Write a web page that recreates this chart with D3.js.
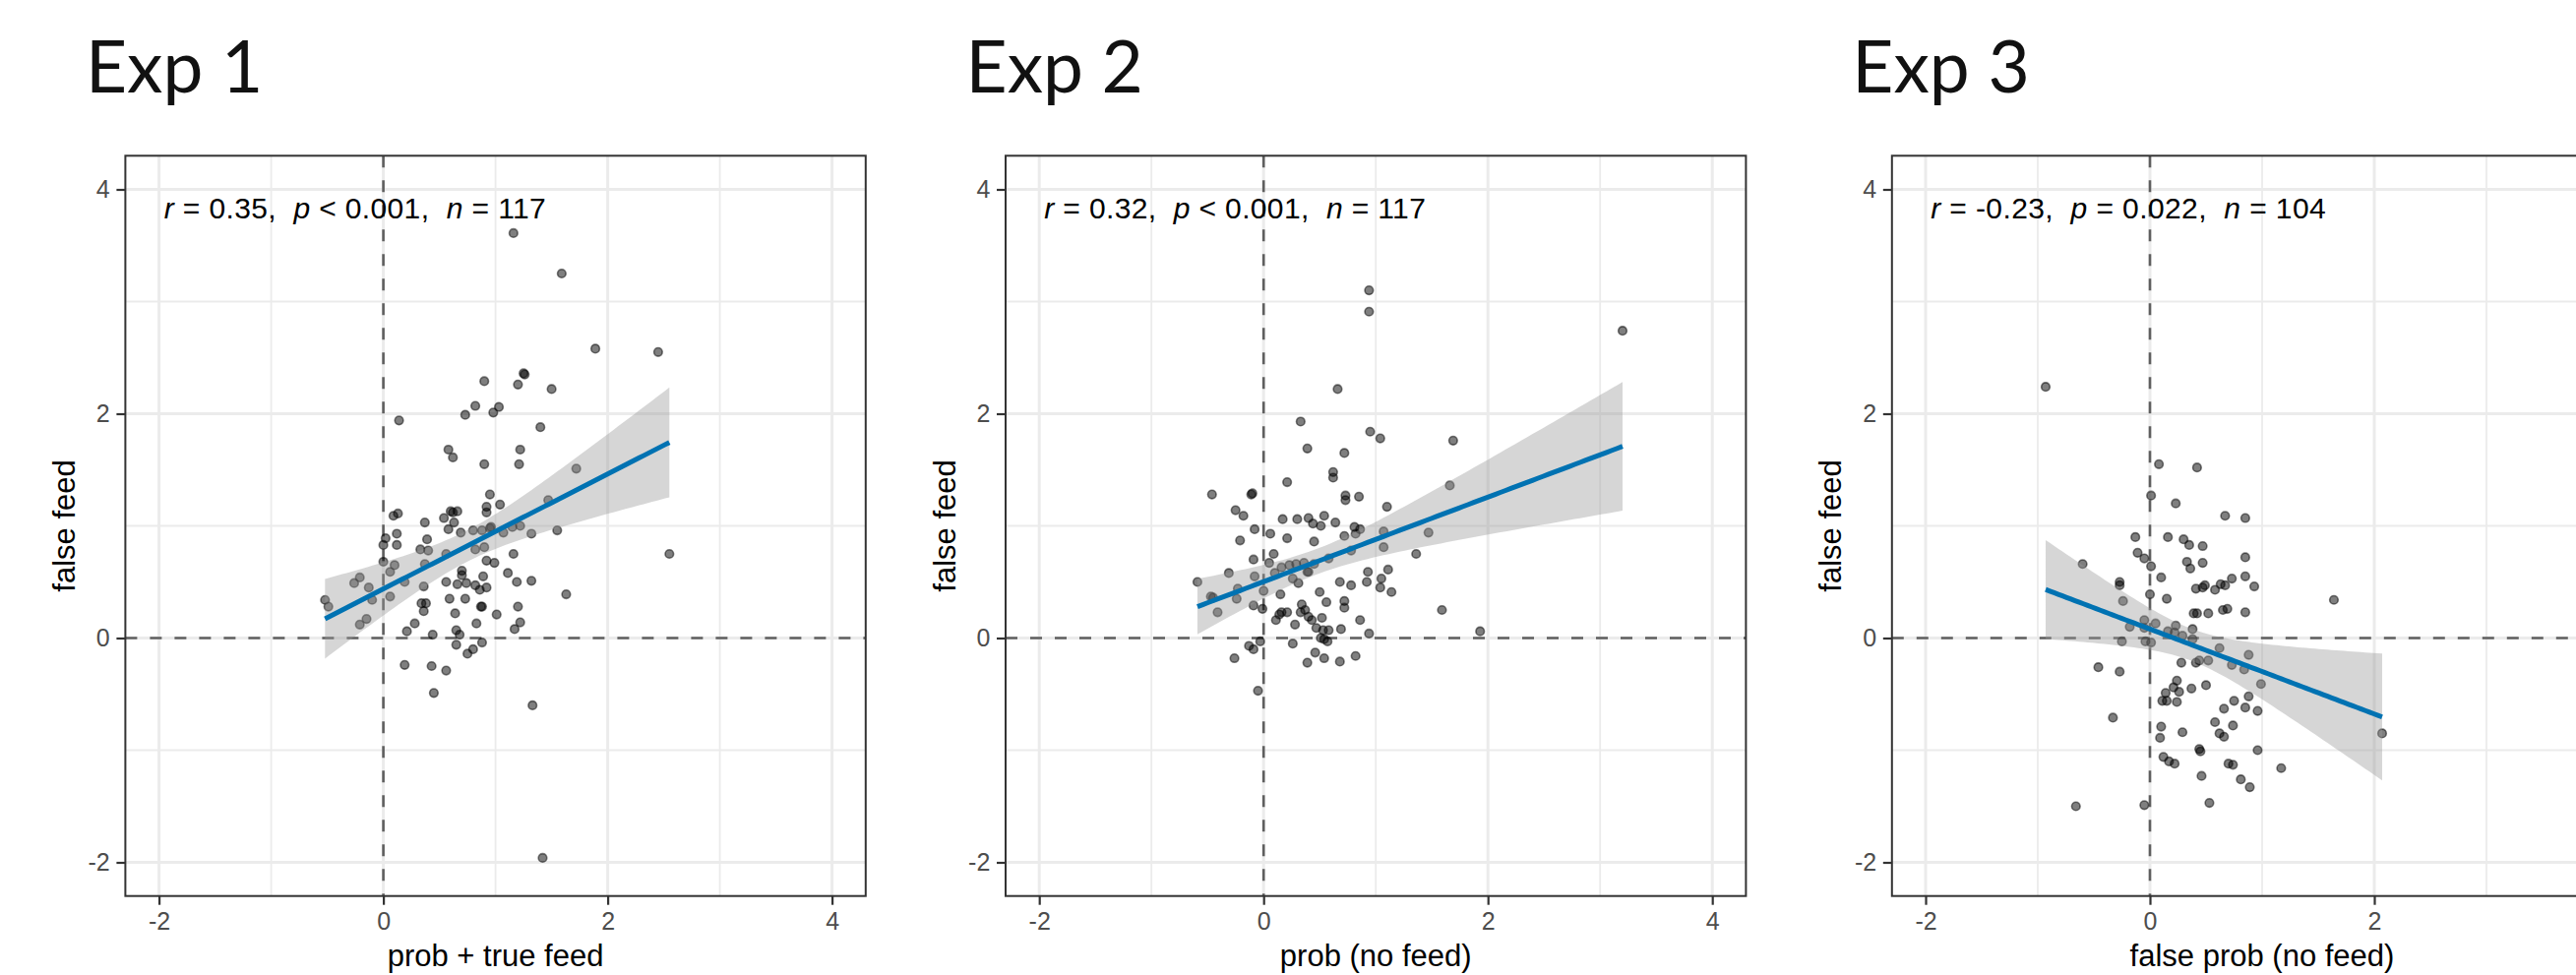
<!doctype html>
<html>
  <head>
    <meta charset="utf-8" />
    <title>Exp 1-3 false feed scatter</title>
    <script type="text/javascript" src="https://cdnjs.cloudflare.com/ajax/libs/d3/7.8.5/d3.min.js"></script>
    <style>
      body {
        margin:0;
        background:#fff;
        overflow:hidden;
      }
      .chart > svg {
        display:block;
      }
      .tick text {
        font-family:"Liberation Sans", Arial, sans-serif;
      }
    </style>
  </head>
  <body>
    <div class="chart"></div>
    <script type="text/javascript">

(function() {

/*panel titles and axis titles*/
var titles = ["Exp 1", "Exp 2", "Exp 3"];
var xTitles = ["prob + true feed", "prob (no feed)", "false prob (no feed)"];
var yTitle = "false feed";

/*stat_cor labels*/
var rVals = ["0.35", "0.32", "-0.23"];
var pRel = ["<", "<", "="];
var pVals = ["0.001", "0.001", "0.022"];
var nVals = ["117", "117", "104"];

/*tick values*/
var majorTicks = [-2, 0, 2, 4];
var minorTicks = [-1, 1, 3];

/*points, [x, y]*/
var exp1 = [
  [1.16,3.61],[1.59,3.25],[1.89,2.58],[2.45,2.55],[1.25,2.36],[1.26,2.35],[0.90,2.29],[1.20,2.26],[1.50,2.22],[0.82,2.07],[1.03,2.06],[0.73,1.99],[0.98,2.01],[0.14,1.94],[1.40,1.88],
  [0.58,1.68],[0.62,1.61],[1.22,1.68],[0.90,1.55],[1.21,1.55],[1.72,1.51],[0.95,1.28],[1.47,1.23],[0.92,1.17],[0.92,1.12],[1.04,1.19],
  [0.09,1.09],[0.13,1.11],[0.60,1.13],[0.66,1.13],[0.62,1.12],[0.54,1.07],[0.63,1.03],[0.37,1.03],[0.58,0.97],[0.69,0.94],[0.80,0.96],[0.88,0.96],[0.96,0.99],[0.95,0.98],[1.07,0.94],[1.15,0.99],[1.22,1.00],[1.32,0.93],[1.55,0.96],
  [0.12,0.93],[0.02,0.89],[0.12,0.83],[0.00,0.83],[0.39,0.88],[0.33,0.79],[0.40,0.78],[0.56,0.75],[0.82,0.79],[0.90,0.81],[1.16,0.75],[0.92,0.69],[0.99,0.67],
  [0.00,0.68],[0.10,0.65],[0.37,0.66],[0.06,0.59],[0.19,0.50],[-0.21,0.54],[-0.26,0.49],[-0.13,0.45],[-0.10,0.34],[0.06,0.37],[-0.52,0.34],[-0.49,0.28],
  [0.36,0.46],[0.56,0.50],[0.66,0.48],[0.70,0.60],[0.70,0.56],[0.74,0.49],[0.82,0.47],[0.86,0.43],[0.89,0.55],[0.92,0.45],[1.11,0.58],[1.19,0.50],[1.32,0.51],[1.63,0.39],
  [0.34,0.31],[0.38,0.31],[0.36,0.24],[0.59,0.35],[0.73,0.35],[0.87,0.28],[0.88,0.28],[0.64,0.22],[1.01,0.21],[1.20,0.28],
  [-0.15,0.17],[-0.21,0.12],[0.28,0.13],[0.21,0.06],[0.44,0.03],[0.65,0.07],[0.68,0.03],[0.83,0.13],[1.22,0.14],[1.17,0.08],
  [0.65,-0.06],[0.88,-0.04],[0.80,-0.10],[0.75,-0.14],[0.19,-0.24],[0.43,-0.25],[0.56,-0.29],[0.45,-0.49],[1.33,-0.60],[1.42,-1.96],[2.55,0.75]
];

var exp2 = [
  [0.94,3.10],[0.94,2.91],[3.20,2.74],[0.66,2.22],[0.33,1.93],[0.95,1.84],[1.04,1.78],[1.69,1.76],[0.39,1.69],[0.72,1.65],[0.62,1.48],[0.62,1.43],[0.21,1.39],[1.66,1.36],
  [-0.46,1.28],[-0.11,1.28],[-0.10,1.29],[0.73,1.27],[0.73,1.23],[0.85,1.26],[1.10,1.17],[-0.25,1.14],[-0.18,1.09],
  [0.17,1.06],[0.30,1.06],[0.40,1.07],[0.54,1.09],[0.64,1.03],[0.44,1.02],[0.51,1.00],[0.81,0.99],[0.86,0.97],[-0.08,0.97],[0.06,0.93],[0.21,0.89],[0.72,0.91],[0.82,0.93],[1.07,0.95],[1.47,0.94],
  [-0.21,0.87],[0.45,0.86],[1.07,0.81],[0.09,0.75],[1.36,0.75],[-0.09,0.70],[0.05,0.67],[0.16,0.63],[0.23,0.65],[0.29,0.66],[0.36,0.67],[0.45,0.66],[0.39,0.59],[0.58,0.71],[0.78,0.78],
  [-0.31,0.58],[0.10,0.58],[0.26,0.53],[0.40,0.59],[0.31,0.49],[0.93,0.59],[1.11,0.61],[-0.59,0.50],[-0.08,0.55],[0.68,0.50],[0.78,0.47],[0.92,0.50],[1.04,0.45],[1.05,0.53],[1.14,0.41],
  [-0.23,0.44],[0.00,0.42],[0.15,0.39],[0.50,0.41],[-0.47,0.37],[-0.45,0.36],[-0.24,0.35],[-0.41,0.23],[-0.09,0.29],[-0.01,0.26],[0.56,0.32],[0.72,0.33],[0.72,0.27],[0.34,0.30],[0.37,0.25],
  [0.16,0.23],[0.21,0.23],[0.14,0.21],[0.33,0.23],[0.40,0.19],[0.43,0.16],[0.52,0.18],[0.11,0.16],[0.28,0.12],[0.47,0.09],[0.53,0.07],[0.58,0.07],[0.69,0.08],[0.86,0.16],[0.94,0.04],[1.59,0.25],[1.93,0.06],
  [-0.03,-0.03],[0.51,0.00],[0.54,-0.01],[0.57,-0.03],[0.26,-0.05],[-0.13,-0.07],[-0.09,-0.10],[-0.26,-0.18],[0.46,-0.13],[0.54,-0.18],[0.68,-0.21],[0.82,-0.16],[0.39,-0.22],[-0.05,-0.47]
];

var exp3 = [
  [-0.93,2.24],[0.08,1.55],[0.42,1.52],[0.01,1.27],[0.23,1.20],[0.67,1.09],[0.85,1.07],[-0.13,0.90],[0.16,0.90],[0.30,0.88],[0.35,0.83],[0.47,0.82],
  [-0.11,0.76],[-0.05,0.71],[0.01,0.64],[0.33,0.68],[0.36,0.62],[0.47,0.67],[0.85,0.72],[-0.60,0.66],[0.10,0.54],[-0.27,0.50],[-0.27,0.47],[-0.24,0.33],[0.00,0.39],[0.15,0.35],
  [0.41,0.44],[0.47,0.45],[0.49,0.47],[0.58,0.43],[0.63,0.48],[0.67,0.47],[0.73,0.53],[0.85,0.55],[0.93,0.46],[1.64,0.34],[0.39,0.22],[0.42,0.22],[0.52,0.22],[0.65,0.25],[0.69,0.26],[0.85,0.23],
  [-0.18,0.10],[-0.05,0.16],[-0.05,0.09],[0.05,0.13],[0.23,0.11],[0.38,0.08],[-0.25,-0.03],[-0.04,-0.03],[0.01,-0.04],[0.16,0.06],[0.22,0.05],[0.29,0.02],[0.38,-0.01],[0.62,-0.09],[0.88,-0.15],
  [0.28,-0.22],[0.41,-0.22],[0.44,-0.20],[0.52,-0.20],[0.73,-0.24],[0.84,-0.28],[-0.46,-0.26],[-0.27,-0.30],[0.99,-0.41],[0.24,-0.38],[0.21,-0.44],[0.26,-0.48],[0.37,-0.45],[0.50,-0.42],
  [0.11,-0.56],[0.15,-0.56],[0.24,-0.57],[0.14,-0.49],[0.88,-0.52],[0.75,-0.56],[0.66,-0.63],[0.85,-0.62],[0.96,-0.65],[-0.33,-0.71],[0.10,-0.79],[0.09,-0.89],[0.29,-0.84],[0.58,-0.75],[0.74,-0.78],[0.62,-0.85],[0.66,-0.88],[2.07,-0.85],
  [0.44,-0.99],[0.45,-1.01],[0.96,-1.00],[0.12,-1.06],[0.17,-1.10],[0.22,-1.12],[0.70,-1.12],[0.74,-1.13],[1.17,-1.16],[0.46,-1.23],[0.81,-1.26],[0.89,-1.33],[-0.66,-1.50],[-0.05,-1.49],[0.53,-1.47]
];

var panels = [exp1, exp2, exp3];

/*layout*/
var g = {};
g.width = 2618;
g.height = 991;
g.panelLeft = [127.4, 1022, 1922.8];
g.panelTop = 158.3;
g.panelSize = 752.4;
g.domain = [-2.3, 4.3];
g.tQuant = 1.98; /*t(0.975, ~110 df)*/
g.labelWidth = [388, 387.5, 401.6];

var SANS = "'Liberation Sans', Arial, Helvetica, sans-serif";

function main() {
  g.svg = d3.select(".chart").append("svg")
    .attr("width", g.width)
    .attr("height", g.height);

  panels.forEach(function(data, i) {
    draw_panel(data, i);
  });
}

/*simple least squares fit with a 95% confidence band like geom_smooth(method = "lm")*/
function fit_lm(data) {
  var n = data.length;
  var xbar = d3.mean(data, function(d) { return d[0]; });
  var ybar = d3.mean(data, function(d) { return d[1]; });
  var sxx = d3.sum(data, function(d) { return (d[0] - xbar) * (d[0] - xbar); });
  var sxy = d3.sum(data, function(d) { return (d[0] - xbar) * (d[1] - ybar); });
  var b = sxy / sxx;
  var a = ybar - b * xbar;
  var sse = d3.sum(data, function(d) { var e = d[1] - (a + b * d[0]); return e * e; });
  var s = Math.sqrt(sse / (n - 2));
  var ext = d3.extent(data, function(d) { return d[0]; });
  var xs = d3.range(0, 81).map(function(k) { return ext[0] + (ext[1] - ext[0]) * k / 80; });
  return xs.map(function(x) {
    var se = s * Math.sqrt(1 / n + (x - xbar) * (x - xbar) / sxx);
    var yhat = a + b * x;
    return {x: x, y: yhat, lo: yhat - g.tQuant * se, hi: yhat + g.tQuant * se};
  });
}

function draw_panel(data, i) {
  var left = g.panelLeft[i];
  var top = g.panelTop;
  var size = g.panelSize;

  var x = d3.scaleLinear().domain(g.domain).range([0, size]);
  var y = d3.scaleLinear().domain(g.domain).range([size, 0]);

  /*only the x ticks that land inside the picture (the third panel runs off the right edge)*/
  var xTicks = majorTicks.filter(function(t) { return left + x(t) + 10 < g.width; });

  /*title*/
  g.svg.append("text")
    .attr("x", left - 40.5)
    .attr("y", 94)
    .attr("font-family", "Lato, 'Open Sans', sans-serif")
    .attr("font-size", 73)
    .attr("fill", "#111")
    .text(titles[i]);

  var p = g.svg.append("g")
    .attr("transform", "translate(" + left + "," + top + ")");

  var clipId = "clip" + i;
  p.append("clipPath").attr("id", clipId)
    .append("rect").attr("width", size).attr("height", size);

  var inner = p.append("g").attr("clip-path", "url(#" + clipId + ")");

  /*grid*/
  inner.selectAll("line.vminor").data(minorTicks).join("line")
    .attr("x1", x).attr("x2", x).attr("y1", 0).attr("y2", size)
    .attr("stroke", "#EBEBEB").attr("stroke-width", 1.8);
  inner.selectAll("line.hminor").data(minorTicks).join("line")
    .attr("y1", y).attr("y2", y).attr("x1", 0).attr("x2", size)
    .attr("stroke", "#EBEBEB").attr("stroke-width", 1.8);
  inner.selectAll("line.vmajor").data(majorTicks).join("line")
    .attr("x1", x).attr("x2", x).attr("y1", 0).attr("y2", size)
    .attr("stroke", "#EBEBEB").attr("stroke-width", 3);
  inner.selectAll("line.hmajor").data(majorTicks).join("line")
    .attr("y1", y).attr("y2", y).attr("x1", 0).attr("x2", size)
    .attr("stroke", "#EBEBEB").attr("stroke-width", 3);

  /*reference lines at zero*/
  inner.append("line")
    .attr("x1", x(0)).attr("x2", x(0)).attr("y1", 0).attr("y2", size)
    .attr("stroke", "#5f5f5f").attr("stroke-width", 2.6)
    .attr("stroke-dasharray", "12,13");
  inner.append("line")
    .attr("y1", y(0)).attr("y2", y(0)).attr("x1", 0).attr("x2", size)
    .attr("stroke", "#5f5f5f").attr("stroke-width", 2.6)
    .attr("stroke-dasharray", "12,13");

  /*points*/
  inner.selectAll("circle.pt").data(data).join("circle")
    .attr("class", "pt")
    .attr("cx", function(d) { return x(d[0]); })
    .attr("cy", function(d) { return y(d[1]); })
    .attr("r", 4.3)
    .attr("fill", "#000").attr("fill-opacity", 0.5)
    .attr("stroke", "#000").attr("stroke-opacity", 0.5)
    .attr("stroke-width", 1.6);

  /*smooth*/
  var fit = fit_lm(data);
  inner.append("path")
    .datum(fit)
    .attr("d", d3.area()
      .x(function(d) { return x(d.x); })
      .y0(function(d) { return y(d.lo); })
      .y1(function(d) { return y(d.hi); }))
    .attr("fill", "#999999").attr("fill-opacity", 0.4);
  inner.append("path")
    .datum(fit)
    .attr("d", d3.line()
      .x(function(d) { return x(d.x); })
      .y(function(d) { return y(d.y); }))
    .attr("fill", "none")
    .attr("stroke", "#0072B2")
    .attr("stroke-width", 5);

  /*correlation label*/
  var lab = inner.append("text")
    .attr("x", x(-1.955))
    .attr("y", y(3.74))
    .attr("font-family", SANS)
    .attr("font-size", 30)
    .attr("fill", "#000")
    .attr("textLength", g.labelWidth[i])
    .attr("lengthAdjust", "spacing")
    .style("white-space", "pre");
  lab.append("tspan").attr("font-style", "italic").text("r");
  lab.append("tspan").text(" = " + rVals[i] + ",  ");
  lab.append("tspan").attr("font-style", "italic").text("p");
  lab.append("tspan").text(" " + pRel[i] + " " + pVals[i] + ",  ");
  lab.append("tspan").attr("font-style", "italic").text("n");
  lab.append("tspan").text(" = " + nVals[i]);

  /*border*/
  p.append("rect")
    .attr("width", size).attr("height", size)
    .attr("fill", "none")
    .attr("stroke", "#333333").attr("stroke-width", 2);

  /*axes*/
  var fmt = function(d) { return String(d); };
  var xAxis = p.append("g")
    .attr("transform", "translate(0," + size + ")")
    .call(d3.axisBottom(x).tickValues(xTicks).tickFormat(fmt).tickSize(9).tickPadding(7.6));
  var yAxis = p.append("g")
    .call(d3.axisLeft(y).tickValues(majorTicks).tickFormat(fmt).tickSize(9).tickPadding(6.7));

  [xAxis, yAxis].forEach(function(ax) {
    ax.select(".domain").remove();
    ax.selectAll(".tick line").attr("stroke", "#333333").attr("stroke-width", 2.2);
    ax.selectAll(".tick text")
      .attr("font-size", 25)
      .attr("fill", "#4D4D4D");
  });

  /*axis titles*/
  p.append("text")
    .attr("x", size / 2)
    .attr("y", 982.3 - top)
    .attr("text-anchor", "middle")
    .attr("font-family", SANS)
    .attr("font-size", 31)
    .attr("fill", "#000")
    .text(xTitles[i]);

  p.append("text")
    .attr("transform", "translate(" + (76 - 127.4) + "," + (size / 2) + ") rotate(-90)")
    .attr("text-anchor", "middle")
    .attr("font-family", SANS)
    .attr("font-size", 31)
    .attr("fill", "#000")
    .text(yTitle);
}

document.addEventListener("DOMContentLoaded", main);

})();

    </script>
  </body>
</html>
